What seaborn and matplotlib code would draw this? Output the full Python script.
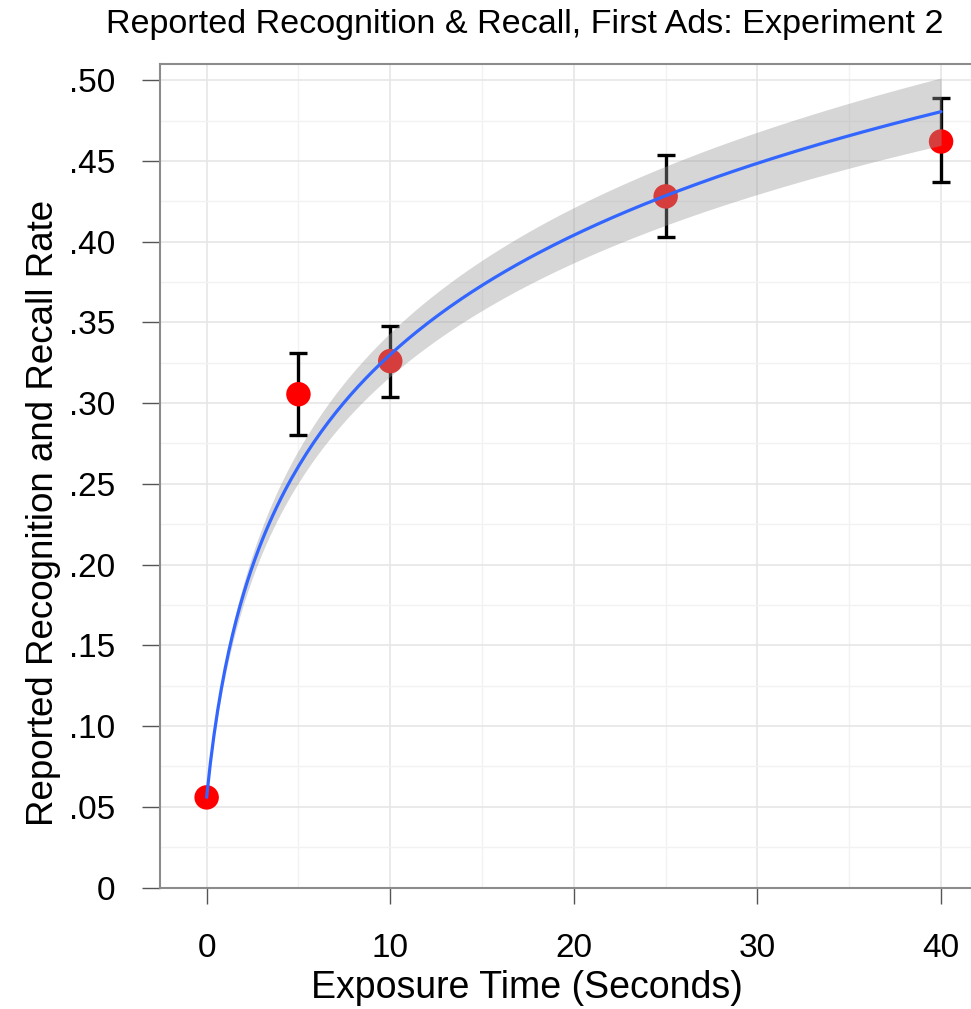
import numpy as np
import pandas as pd
import matplotlib
matplotlib.use("Agg")
import matplotlib.pyplot as plt
from matplotlib.ticker import FuncFormatter, MultipleLocator
import seaborn as sns

# data
exposure = [0, 5, 10, 25, 40]
rate = [0.0558, 0.3055, 0.326, 0.428, 0.462]
err_low = [0.0540, 0.280, 0.304, 0.4027, 0.4368]
err_high = [0.0576, 0.331, 0.3476, 0.4535, 0.489]

title = "Reported Recognition & Recall, First Ads: Experiment 2"
xlabel = "Exposure Time (Seconds)"
ylabel = "Reported Recognition and Recall Rate"
yticks = [0, .05, .10, .15, .20, .25, .30, .35, .40, .45, .50]
xticks = [0, 10, 20, 30, 40]

df = pd.DataFrame({"exposure": exposure, "rate": rate})

# weighted fit y ~ a + b*log(x+1), band from the point SEs
x = np.array(exposure, float)
y = np.array(rate)
se = (np.array(err_high) - np.array(err_low)) / 2 / 1.96
X = np.column_stack([np.ones_like(x), np.log1p(x)])
W = np.diag(1 / se**2)
cov = np.linalg.inv(X.T @ W @ X)
beta = cov @ X.T @ W @ y
xs = np.linspace(0, 40, 200)
Xs = np.column_stack([np.ones_like(xs), np.log1p(xs)])
fit = Xs @ beta
band = 2.55 * np.sqrt(np.einsum("ij,jk,ik->i", Xs, cov, Xs))
fit_df = pd.DataFrame({"exposure": xs, "fit": fit})

sns.set_theme(style="white")
plt.rcParams["font.family"] = ["Liberation Sans", "DejaVu Sans"]
plt.rcParams["text.color"] = "black"
plt.rcParams["xtick.labelcolor"] = "black"
plt.rcParams["ytick.labelcolor"] = "black"

fig = plt.figure(figsize=(9.71, 10.09), dpi=100)
ax = fig.add_axes([160 / 971, 1 - 887.5 / 1009, (971 - 160) / 971, (887.5 - 64) / 1009])

ax.errorbar(exposure, rate,
            yerr=[np.array(rate) - np.array(err_low), np.array(err_high) - np.array(rate)],
            fmt="none", ecolor="black", elinewidth=2.4, capsize=6.5, capthick=2.4, zorder=2)
sns.scatterplot(data=df, x="exposure", y="rate", color="#ff0000", s=310,
                edgecolor="none", ax=ax, zorder=3)
ax.fill_between(xs, fit - band, fit + band, color="#999999", alpha=0.4,
                linewidth=0, zorder=4)
sns.lineplot(data=fit_df, x="exposure", y="fit", color="#3366ff", linewidth=2.3,
             ax=ax, zorder=5)

ax.set_xlim(-2.54, 41.63)
ax.set_ylim(0, 0.51)
ax.set_xticks(xticks)
ax.set_yticks(yticks)
ax.xaxis.set_minor_locator(MultipleLocator(5))
ax.yaxis.set_minor_locator(MultipleLocator(0.025))
ax.yaxis.set_major_formatter(FuncFormatter(lambda v, p: "0" if abs(v) < 1e-9 else f"{v:.2f}".lstrip("0")))

ax.grid(which="major", color="#e6e6e6", linewidth=1.2)
ax.grid(which="minor", color="#f2f2f2", linewidth=1.0)
ax.set_axisbelow(True)

for side in ["left", "bottom", "top"]:
    ax.spines[side].set_color("#8c8c8c")
    ax.spines[side].set_linewidth(1.5)
ax.spines["right"].set_visible(False)

ax.tick_params(axis="y", which="major", direction="out", length=13, width=1,
               color="#555555", labelsize=24, pad=19, left=True)
ax.tick_params(axis="x", which="major", direction="out", length=11.5, width=1,
               color="#555555", labelsize=24, pad=21, bottom=True)
ax.tick_params(which="minor", length=0)

ax.set_xlabel("")
ax.set_ylabel("")
fig.text(527 / 971, 1 - 998 / 1009, xlabel, fontsize=27, ha="center", va="baseline")
fig.text(53 / 971, 1 - 513 / 1009, ylabel, fontsize=26.5, rotation=90,
         rotation_mode="anchor", ha="center", va="baseline")
fig.text(525 / 971, 1 - 33 / 1009, title, fontsize=24.6, ha="center", va="baseline")

fig.savefig("out.png", dpi=100)
